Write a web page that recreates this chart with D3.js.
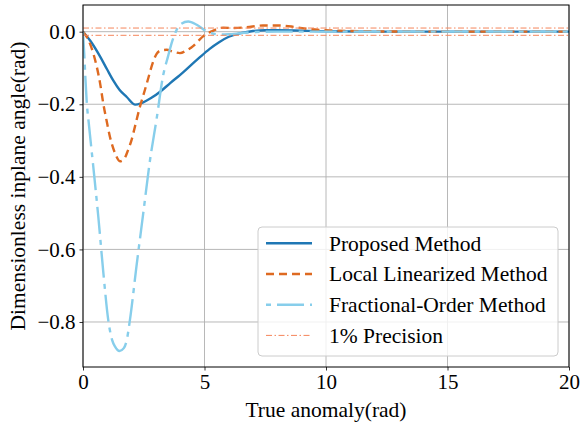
<!DOCTYPE html>
<html>
<head>
<meta charset="utf-8">
<script src="https://cdn.jsdelivr.net/npm/d3@7"></script>
<style>
  body { margin: 0; background: #fff; }
  svg { display: block; }
</style>
</head>
<body>
<div id="chart"></div>
<script>
// values
const tProposed = [0, 0.3, 0.7, 1.0, 1.25, 1.5, 1.8, 2.15, 2.4, 2.8, 3.2, 3.6, 4.0, 4.4, 4.8, 5.2, 5.6, 6.0, 6.5, 7.0, 7.5, 8, 9, 10, 12, 15, 20];
const yProposed = [0, -0.025, -0.068, -0.105, -0.135, -0.16, -0.18, -0.201, -0.197, -0.183, -0.164, -0.141, -0.119, -0.095, -0.071, -0.048, -0.029, -0.014, -0.004, 0.002, 0.004, 0.004, 0.003, 0.001, 0, 0, 0];

const tLocal = [0, 0.2, 0.42, 0.7, 0.84, 0.97, 1.11, 1.32, 1.52, 1.7, 1.86, 2.0, 2.14, 2.35, 2.55, 2.7, 2.85, 3.03, 3.2, 3.44, 3.7, 3.99, 4.25, 4.53, 4.75, 4.94, 5.3, 5.77, 6.2, 6.7, 7.4, 8.1, 8.7, 9.2, 10, 11, 12, 14, 20];
const yLocal = [0, -0.02, -0.059, -0.141, -0.2, -0.245, -0.29, -0.335, -0.357, -0.35, -0.325, -0.298, -0.261, -0.205, -0.16, -0.125, -0.09, -0.061, -0.052, -0.05, -0.055, -0.059, -0.052, -0.04, -0.025, -0.013, 0.001, 0.011, 0.01, 0.012, 0.017, 0.017, 0.013, 0.008, 0.004, 0.002, 0.001, 0, 0];

const tFractional = [0, 0.05, 0.1, 0.15, 0.25, 0.42, 0.63, 0.84, 1.04, 1.2, 1.32, 1.5, 1.68, 1.8, 1.93, 2.2, 2.48, 2.76, 3.03, 3.3, 3.5, 3.65, 3.8, 3.99, 4.33, 4.68, 5.09, 5.4, 5.64, 6.0, 6.5, 7.1, 8, 10, 20];
const yFractional = [0, -0.06, -0.13, -0.19, -0.26, -0.37, -0.51, -0.666, -0.795, -0.85, -0.868, -0.88, -0.872, -0.85, -0.795, -0.647, -0.5, -0.353, -0.24, -0.12, -0.068, -0.031, -0.003, 0.019, 0.028, 0.019, 0.001, -0.006, -0.008, -0.007, -0.004, -0.001, 0, 0, 0];

const precisionBand = [0.01, -0.01];

const xTicks = [0, 5, 10, 15, 20];
const yTicks = [0, -0.2, -0.4, -0.6, -0.8];

const legendLabels = ['Proposed Method', 'Local Linearized Method', 'Fractional-Order Method', '1% Precision'];

const FONT = 'Liberation Serif';
const FS = 21.5;

const width = 580, height = 427;
const margin = {top: 5, right: 11, bottom: 60, left: 83};

const svg = d3.select('#chart').append('svg')
    .attr('width', width)
    .attr('height', height)
    .attr('font-family', FONT);

const x = d3.scaleLinear().domain([0, 20]).range([margin.left, width - margin.right]);
const y = d3.scaleLinear().domain([-0.924, 0.0735]).range([height - margin.bottom, margin.top]);

// grid
svg.append('g')
    .selectAll('line')
    .data(xTicks)
    .join('line')
    .attr('x1', d => x(d)).attr('x2', d => x(d))
    .attr('y1', margin.top).attr('y2', height - margin.bottom)
    .attr('stroke', '#b0b0b0').attr('stroke-width', 0.9);

svg.append('g')
    .selectAll('line')
    .data(yTicks)
    .join('line')
    .attr('x1', margin.left).attr('x2', width - margin.right)
    .attr('y1', d => y(d)).attr('y2', d => y(d))
    .attr('stroke', '#b0b0b0').attr('stroke-width', 0.9);

svg.append('clipPath').attr('id', 'plot-clip')
    .append('rect')
    .attr('x', margin.left).attr('y', margin.top)
    .attr('width', width - margin.left - margin.right)
    .attr('height', height - margin.top - margin.bottom);

const plot = svg.append('g').attr('clip-path', 'url(#plot-clip)');

const line = d3.line()
    .x(d => x(d[0]))
    .y(d => y(d[1]))
    .curve(d3.curveMonotoneX);

const series = [
    {t: tProposed, v: yProposed, color: '#1f77b4', width: 2.4, dash: null},
    {t: tLocal, v: yLocal, color: '#de6a21', width: 2.4, dash: '8,5'},
    {t: tFractional, v: yFractional, color: '#87ceeb', width: 2.4, dash: '27,6,5,6'}
];

series.forEach(s => {
    plot.append('path')
        .datum(d3.zip(s.t, s.v))
        .attr('d', line)
        .attr('fill', 'none')
        .attr('stroke', s.color)
        .attr('stroke-width', s.width)
        .attr('stroke-dasharray', s.dash);
});

plot.selectAll('.precision')
    .data(precisionBand)
    .join('line')
    .attr('class', 'precision')
    .attr('x1', x(0)).attr('x2', x(20))
    .attr('y1', d => y(d)).attr('y2', d => y(d))
    .attr('stroke', '#f5855a')
    .attr('stroke-width', 1)
    .attr('stroke-dasharray', '6,2.5,1.5,2.5');

// axes
const xAxis = svg.append('g')
    .attr('transform', `translate(0,${height - margin.bottom})`)
    .call(d3.axisBottom(x).tickValues(xTicks).tickFormat(d3.format('d')).tickSizeOuter(0).tickSize(3.5).tickPadding(4));

const yAxis = svg.append('g')
    .attr('transform', `translate(${margin.left},0)`)
    .call(d3.axisLeft(y).tickValues(yTicks).tickFormat(d => d3.format('.1f')(d).replace('-', '\u2212')).tickSizeOuter(0).tickSize(3.5).tickPadding(4));

[xAxis, yAxis].forEach(a => {
    a.attr('font-family', FONT).attr('font-size', 21);
    a.select('.domain').remove();
    a.selectAll('.tick line').attr('stroke', '#000').attr('stroke-width', 0.8);
    a.selectAll('.tick text').attr('fill', '#000');
});

// frame
svg.append('rect')
    .attr('x', margin.left).attr('y', margin.top)
    .attr('width', width - margin.left - margin.right)
    .attr('height', height - margin.top - margin.bottom)
    .attr('fill', 'none')
    .attr('stroke', '#000')
    .attr('stroke-width', 1);

svg.append('text')
    .attr('x', (margin.left + width - margin.right) / 2)
    .attr('y', 417)
    .attr('text-anchor', 'middle')
    .attr('font-family', FONT)
    .attr('font-size', FS)
    .text('True anomaly(rad)');

svg.append('text')
    .attr('transform', `translate(25,${(margin.top + height - margin.bottom) / 2}) rotate(-90)`)
    .attr('text-anchor', 'middle')
    .attr('font-family', FONT)
    .attr('font-size', FS)
    .text('Dimensionless inplane angle(rad)');

// legend
const legend = svg.append('g');
legend.append('rect')
    .attr('x', 258).attr('y', 227)
    .attr('width', 300).attr('height', 129)
    .attr('rx', 4)
    .attr('fill', '#fff').attr('fill-opacity', 0.8)
    .attr('stroke', '#cccccc').attr('stroke-width', 1);

const legendStyles = [
    {color: '#1f77b4', width: 2.4, dash: null},
    {color: '#de6a21', width: 2.4, dash: '8,5'},
    {color: '#87ceeb', width: 2.4, dash: '5,6,27,6'},
    {color: '#f5855a', width: 1, dash: '6,2.5,1.5,2.5'}
];

const rows = legend.selectAll('g.row')
    .data(legendLabels)
    .join('g')
    .attr('class', 'row')
    .attr('transform', (d, i) => `translate(0,${243.3 + i * 30.7})`);

rows.append('line')
    .attr('x1', 266).attr('x2', 312)
    .attr('y1', 0).attr('y2', 0)
    .attr('stroke', (d, i) => legendStyles[i].color)
    .attr('stroke-width', (d, i) => legendStyles[i].width)
    .attr('stroke-dasharray', (d, i) => legendStyles[i].dash);

rows.append('text')
    .attr('x', 329)
    .attr('y', 7.4)
    .attr('font-family', FONT)
    .attr('font-size', FS)
    .text(d => d);
</script>
</body>
</html>
